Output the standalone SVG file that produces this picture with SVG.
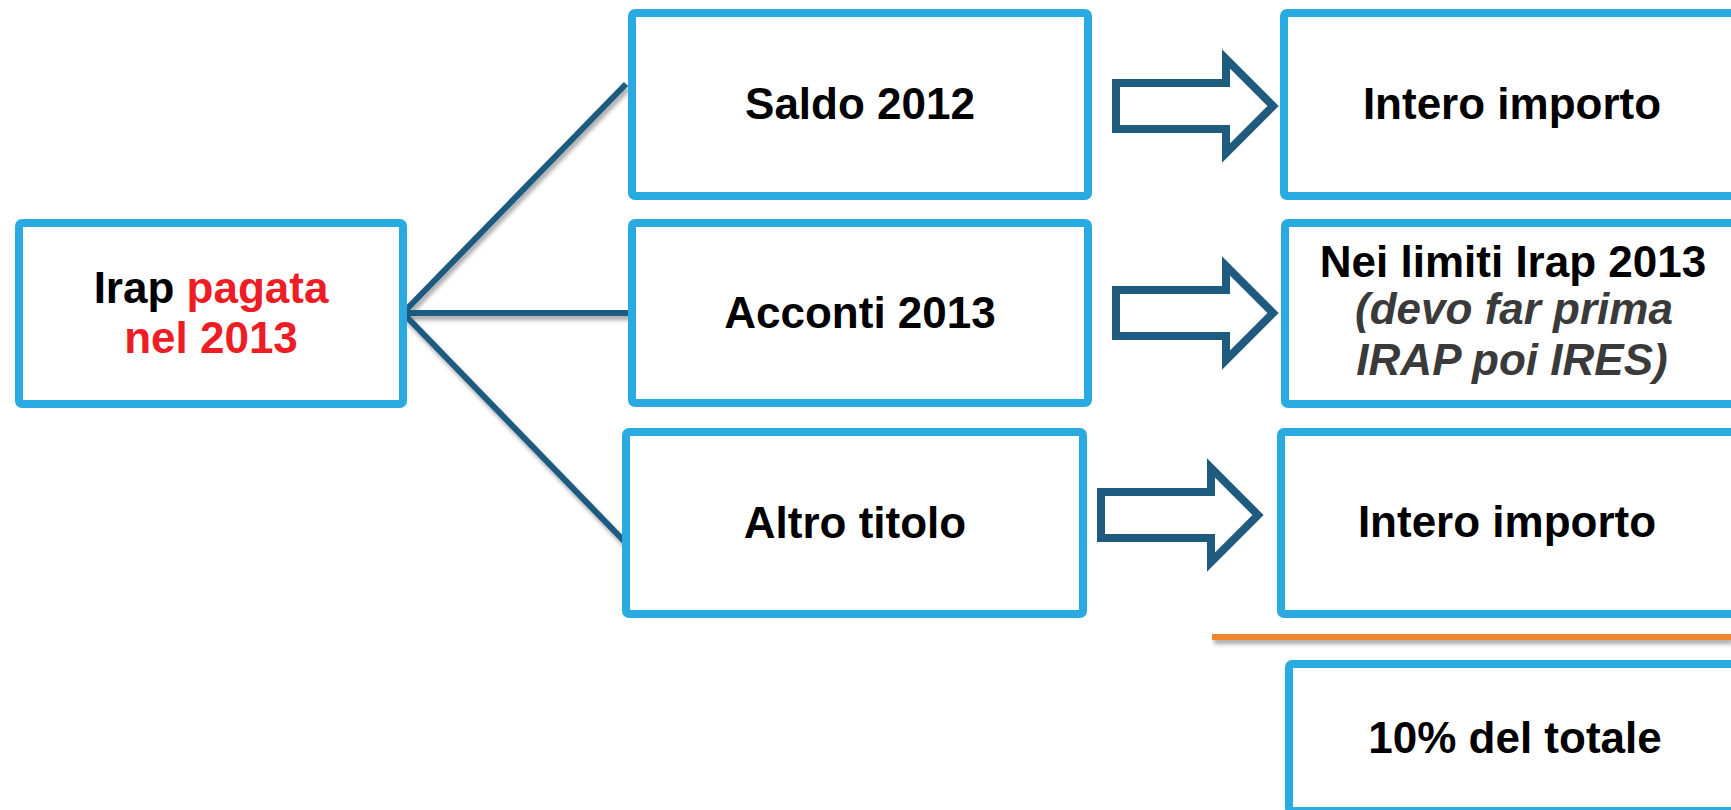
<svg xmlns="http://www.w3.org/2000/svg" width="1731" height="810" viewBox="0 0 1731 810">
<style>
.box{fill:#FFFFFF;stroke:#29ABE2;stroke-width:8;}
.t{font-family:"Liberation Sans",Arial,sans-serif;font-weight:bold;font-size:44px;fill:#000000;text-anchor:middle;}
.it{font-style:italic;fill:#3A3A3A;}
.red{fill:#EE1C25;}
.conn{stroke:#1F5A7F;stroke-width:6;fill:none;stroke-linecap:butt;}
.barrow{fill:#FFFFFF;stroke:#1F5A7F;stroke-width:8;stroke-linejoin:miter;stroke-miterlimit:10;}
</style>
<defs>
<filter id="sh" filterUnits="userSpaceOnUse" x="0" y="0" width="1731" height="810">
<feDropShadow dx="2" dy="4" stdDeviation="2" flood-color="#000000" flood-opacity="0.35"/>
</filter>
<polygon id="arr" points="0,0 110,0 110,-24 157,23 110,70 110,46 0,46"/>
</defs>
<rect width="1731" height="810" fill="#FFFFFF"/>
<g id="connectors">
<g filter="url(#sh)">
<line class="conn" x1="403" y1="313" x2="626" y2="84"/>
<line class="conn" x1="403" y1="313" x2="630" y2="313"/>
<line class="conn" x1="403" y1="313" x2="626" y2="543"/>
</g>
<use href="#arr" class="barrow" x="1116" y="83"/>
<use href="#arr" class="barrow" x="1116" y="290"/>
<use href="#arr" class="barrow" x="1101" y="492"/>
<rect x="1212" y="634" width="519" height="6" fill="#F0852A" filter="url(#sh)"/>
</g>
<g id="n-irap">
<rect class="box" x="19" y="223" width="384" height="181" rx="3"/>
<text class="t" x="211" y="303">Irap <tspan class="red">pagata</tspan></text>
<text class="t red" x="211" y="353">nel 2013</text>
</g>
<g id="n-saldo">
<rect class="box" x="632" y="13" width="456" height="183" rx="3"/>
<text class="t" x="860" y="119">Saldo 2012</text>
</g>
<g id="n-acconti">
<rect class="box" x="632" y="223" width="456" height="180" rx="3"/>
<text class="t" x="860" y="328">Acconti 2013</text>
</g>
<g id="n-altro">
<rect class="box" x="626" y="432" width="457" height="182" rx="3"/>
<text class="t" x="855" y="538">Altro titolo</text>
</g>
<g id="n-intero1">
<rect class="box" x="1284" y="13" width="458" height="183" rx="3"/>
<text class="t" x="1512" y="119">Intero importo</text>
</g>
<g id="n-limiti">
<rect class="box" x="1285" y="223" width="458" height="181" rx="3"/>
<text class="t" x="1513" y="277">Nei limiti Irap 2013</text>
<text class="t it" x="1514" y="324">(devo far prima</text>
<text class="t it" x="1512" y="375">IRAP poi IRES)</text>
</g>
<g id="n-intero2">
<rect class="box" x="1281" y="432" width="458" height="182" rx="3"/>
<text class="t" x="1507" y="537">Intero importo</text>
</g>
<g id="n-dieci">
<rect class="box" x="1289" y="664" width="458" height="147" rx="3"/>
<text class="t" x="1515" y="753">10% del totale</text>
</g>
</svg>
